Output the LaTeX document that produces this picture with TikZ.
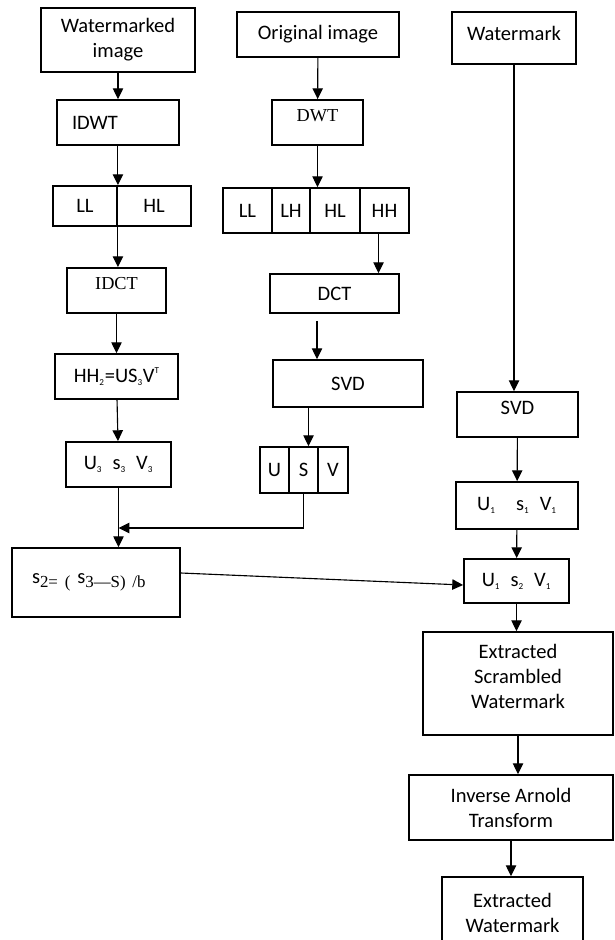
\documentclass[tikz,border=0pt]{standalone}
\usepackage{fontspec}
\setmainfont{Carlito}
\newfontfamily\timesf{Liberation Serif}
\usetikzlibrary{arrows.meta,calc}
\newcommand{\dn}[1]{\textsubscript{\fontsize{6.5}{7}\selectfont #1}}
\newcommand{\supT}[1]{\raisebox{6pt}{\fontsize{6.5}{7}\selectfont #1}}

\begin{document}
\begin{tikzpicture}[x=0.025cm, y=-0.025cm, font=\fontsize{14.6}{17.7}\selectfont,
  bw/.style={minimum width=#1*0.025cm},
  bh/.style={minimum height=#1*0.025cm},
  liftby/.style={text depth=#1},
  blk/.style={draw, line width=1.3pt, inner sep=0pt, align=center},
  tms/.style={font=\timesf\fontsize{13}{15}\selectfont},
  arr/.style={-{Triangle[length=2.7mm,width=2.6mm]}, line width=0.8pt}]
  \clip (0,0) rectangle (614,940);

  % extraction branch
  \node[blk, bw=154, bh=64] (wimg) at (118,40) {Watermarked\\image};
  \node[blk, bw=122, bh=45, align=left, text width=92*0.025cm, inner xsep=15*0.025cm] (idwt) at (118,122.5) {IDWT};
  \node[blk, bw=64, bh=40] (ll1) at (85,206) {LL};
  \node[blk, bw=74, bh=40] (hl1) at (154,206) {HL};
  \node[blk, tms, liftby=10pt, bw=99, bh=45] (idct) at (116.5,290.5) {IDCT};
  \node[blk, bw=123, bh=45] (hh) at (116.5,376.5) {HH\dn{2}=US\dn{3}V\supT{T}};
  \node[blk, bw=105, bh=45] (usv3) at (118.5,464.5) {U\dn{3}\enspace s\dn{3}\enspace V\dn{3}};
  \node[blk, bw=168, bh=69, align=left, text width=128*0.025cm, inner xsep=20*0.025cm] (sfrm) at (96,582.5)
    {\raisebox{3pt}{s}{\timesf\fontsize{12}{14}\selectfont 2= ( }\raisebox{3pt}{s}{\timesf\fontsize{12}{14}\selectfont 3—S) /b}};

  % original image branch
  \node[blk, bw=162, bh=45] (oimg) at (318,34.5) {Original image};
  \node[blk, tms, liftby=10pt, bw=91, bh=45] (dwt) at (317.5,122.5) {DWT};
  \node[blk, bw=49, bh=45] (ll2) at (247.5,210.5) {LL};
  \node[blk, bw=38, bh=45] (lh2) at (291,210.5) {LH};
  \node[blk, bw=50, bh=45] (hl2) at (335,210.5) {HL};
  \node[blk, bw=49, bh=45] (hh2) at (384.5,210.5) {HH};
  \node[blk, bw=129, bh=39] (dct) at (334.5,293.5) {DCT};
  \node[blk, bw=150, bh=47] (svdm) at (348,383.5) {SVD};
  \node[blk, bw=29, bh=46] (ucell) at (274.5,470) {U};
  \node[blk, bw=29, bh=46] (scell) at (303.5,470) {S};
  \node[blk, bw=30, bh=46] (vcell) at (333,470) {V};

  % watermark branch
  \node[blk, liftby=7pt, bw=124, bh=52] (wm) at (514,38) {Watermark};
  \node[blk, liftby=10pt, bw=121, bh=45] (svdr) at (517.5,414.5) {SVD};
  \node[blk, bw=122, bh=47] (usv1) at (517,505.5) {U\dn{1}\quad s\dn{1}\enspace V\dn{1}};
  \node[blk, bw=105, bh=44] (usv2) at (516.5,581) {U\dn{1}\enspace s\dn{2}\enspace V\dn{1}};
  \node[blk, liftby=10pt, bw=190, bh=103] (esw) at (518,683.5) {Extracted\\Scrambled\\Watermark};
  \node[blk, bw=204, bh=65] (iat) at (511,807.5) {Inverse Arnold\\Transform};
  \node[blk, bw=141, bh=72] (ew) at (512.5,913) {Extracted\\Watermark};

  \coordinate (jn) at (usv3.south |- 0,528);
  \coordinate (hhb) at ($(hh2.south)+(-6,0)$);
  \coordinate (dcb) at ($(dct.south)+(-17.5,7)$);
  \coordinate (snt) at ($(scell.north)+(5,0)$);

  % arrows
  \draw[arr] (wimg) -- (idwt);
  \draw[arr] (idwt.south -| ll1.east) -- (ll1.north east);
  \draw[arr] (ll1.south east) -- (ll1.south east |- idct.north);
  \draw[arr] (idct) -- (hh);
  \draw[arr] (hh) -- (usv3);
  \draw[arr] (usv3) -- (usv3 |- sfrm.north);
  \draw[arr] (oimg) -- (dwt);
  \draw[arr] (dwt.south) -- (dwt.south |- hl2.north);
  \draw[arr] (hhb) -- (hhb |- dct.north);
  \draw[arr] (dcb) -- (dcb |- svdm.north);
  \draw[arr] (snt |- svdm.south) -- (snt);
  \draw[arr] (scell.south) |- (jn);
  \draw[arr] (wm) -- (wm |- svdr.north);
  \draw[arr] (svdr) -- (usv1);
  \draw[arr] (usv1) -- (usv2);
  \draw[arr] ($(sfrm.east)+(0,-9.5)$) -- ($(usv2.west)+(0,4)$);
  \draw[arr] (usv2) -- (usv2 |- esw.north);
  \draw[arr] (esw) -- (esw |- iat.north);
  \draw[arr] (iat) -- (iat |- ew.north);
\end{tikzpicture}
\end{document}
